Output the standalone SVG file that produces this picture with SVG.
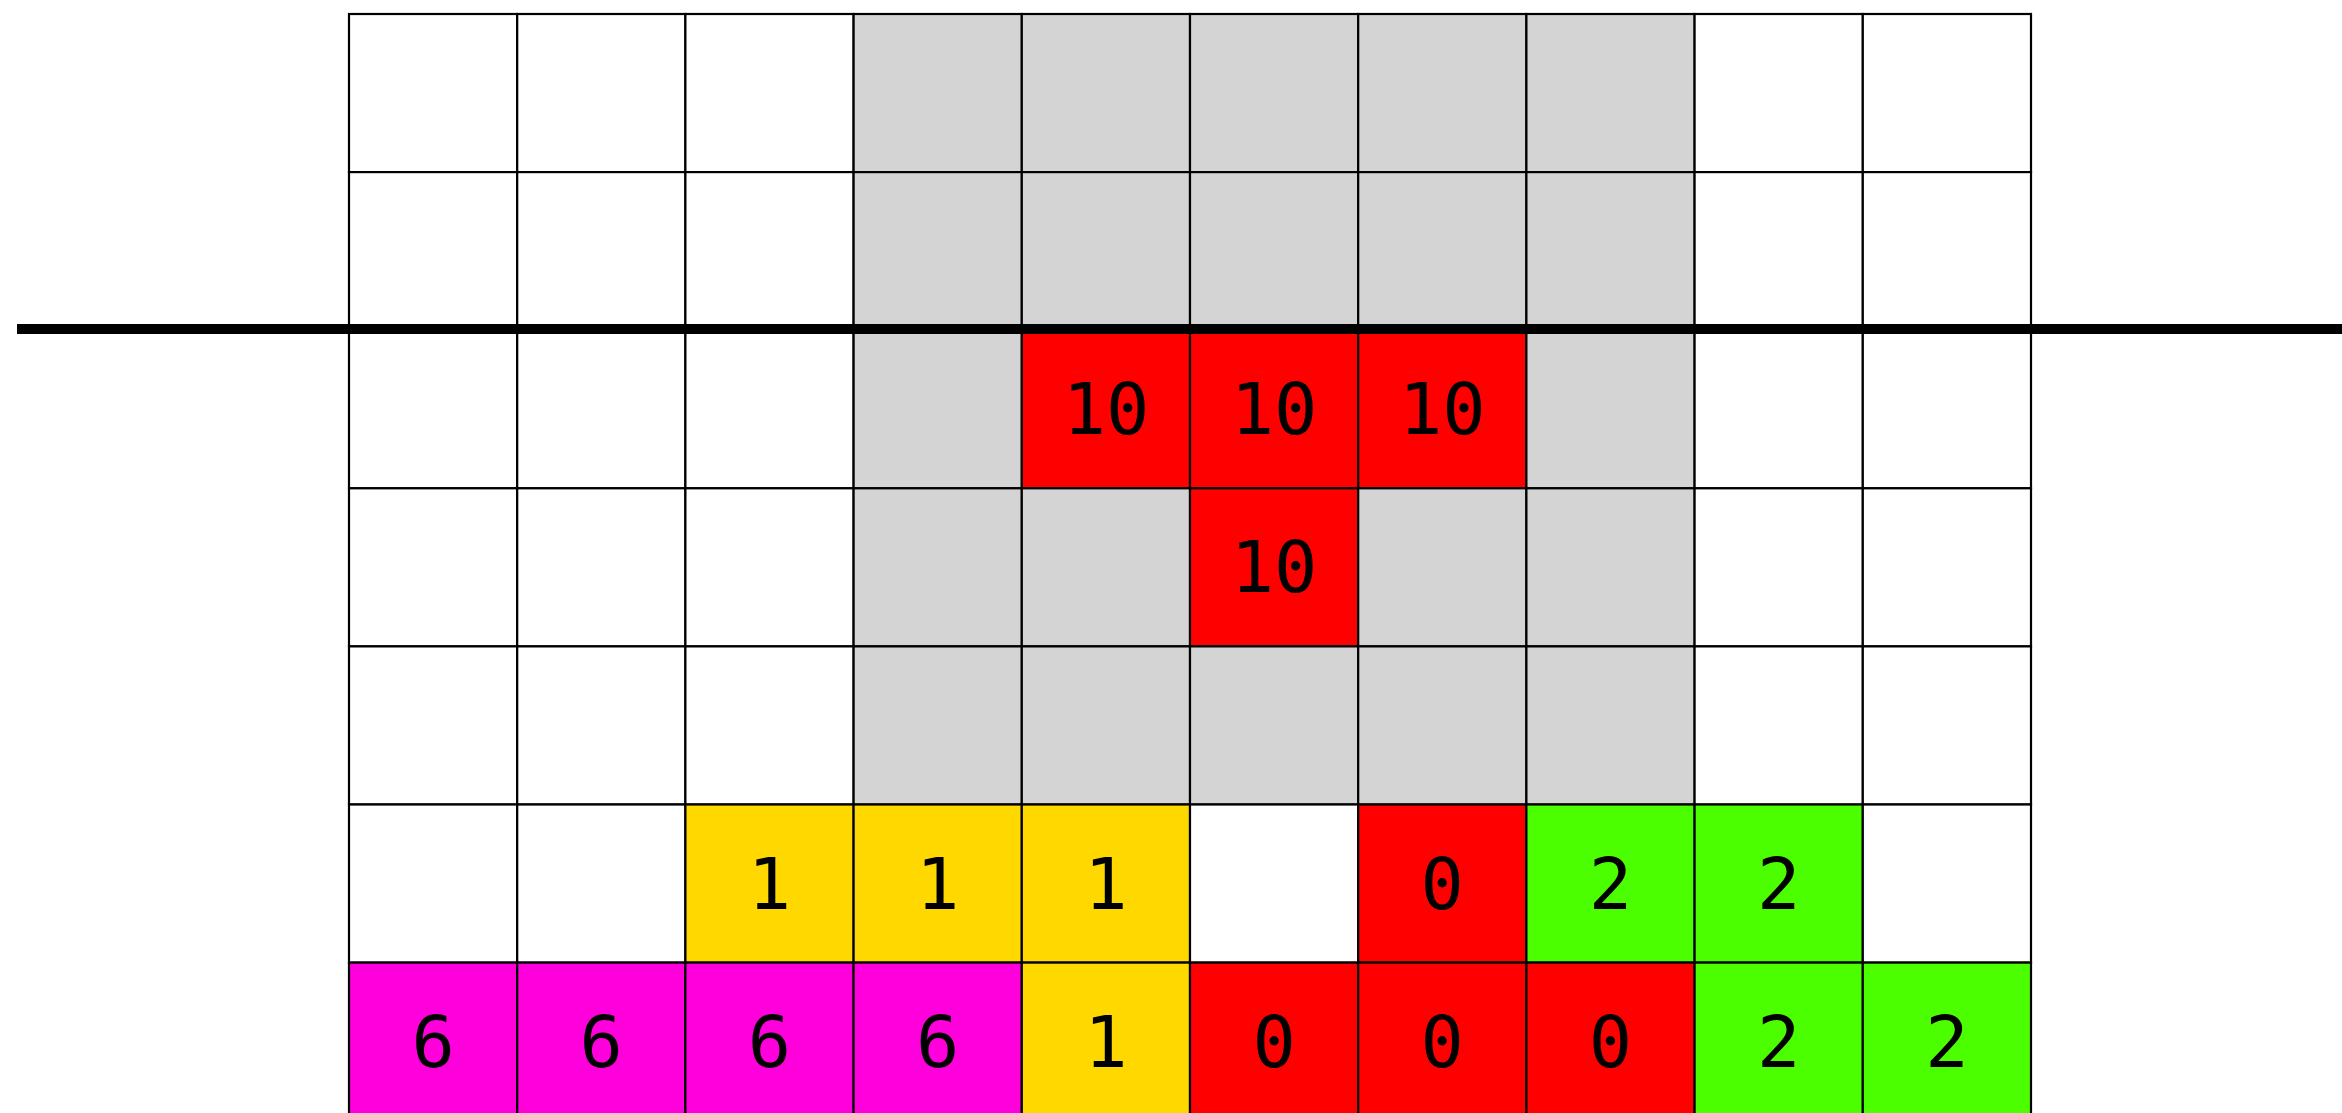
<svg xmlns="http://www.w3.org/2000/svg" width="2342" height="1113" viewBox="0 0 2342 1113">
<style>
rect{stroke:#000;stroke-width:2.2}
.w{fill:#ffffff}.g{fill:#d4d4d4}.r{fill:#ff0000}.y{fill:#ffd800}.gr{fill:#4cff00}.m{fill:#ff00dc}
text{font-family:"DejaVu Sans Mono",monospace;font-size:72px;text-anchor:middle;fill:#000;font-variant-numeric:slashed-zero;font-feature-settings:"zero" 1}
</style>
<rect x="0" y="0" width="2342" height="1113" style="fill:#fff;stroke:none"/>
<g id="row0">
<g id="c0-0"><rect class="w" x="349" y="14" width="168.2" height="158.1"/></g>
<g id="c0-1"><rect class="w" x="517.2" y="14" width="168.2" height="158.1"/></g>
<g id="c0-2"><rect class="w" x="685.4" y="14" width="168.2" height="158.1"/></g>
<g id="c0-3"><rect class="g" x="853.6" y="14" width="168.2" height="158.1"/></g>
<g id="c0-4"><rect class="g" x="1021.8" y="14" width="168.2" height="158.1"/></g>
<g id="c0-5"><rect class="g" x="1190" y="14" width="168.2" height="158.1"/></g>
<g id="c0-6"><rect class="g" x="1358.2" y="14" width="168.2" height="158.1"/></g>
<g id="c0-7"><rect class="g" x="1526.4" y="14" width="168.2" height="158.1"/></g>
<g id="c0-8"><rect class="w" x="1694.6" y="14" width="168.2" height="158.1"/></g>
<g id="c0-9"><rect class="w" x="1862.8" y="14" width="168.2" height="158.1"/></g>
</g>
<g id="row1">
<g id="c1-0"><rect class="w" x="349" y="172.1" width="168.2" height="158.1"/></g>
<g id="c1-1"><rect class="w" x="517.2" y="172.1" width="168.2" height="158.1"/></g>
<g id="c1-2"><rect class="w" x="685.4" y="172.1" width="168.2" height="158.1"/></g>
<g id="c1-3"><rect class="g" x="853.6" y="172.1" width="168.2" height="158.1"/></g>
<g id="c1-4"><rect class="g" x="1021.8" y="172.1" width="168.2" height="158.1"/></g>
<g id="c1-5"><rect class="g" x="1190" y="172.1" width="168.2" height="158.1"/></g>
<g id="c1-6"><rect class="g" x="1358.2" y="172.1" width="168.2" height="158.1"/></g>
<g id="c1-7"><rect class="g" x="1526.4" y="172.1" width="168.2" height="158.1"/></g>
<g id="c1-8"><rect class="w" x="1694.6" y="172.1" width="168.2" height="158.1"/></g>
<g id="c1-9"><rect class="w" x="1862.8" y="172.1" width="168.2" height="158.1"/></g>
</g>
<g id="row2">
<g id="c2-0"><rect class="w" x="349" y="330.2" width="168.2" height="158.1"/></g>
<g id="c2-1"><rect class="w" x="517.2" y="330.2" width="168.2" height="158.1"/></g>
<g id="c2-2"><rect class="w" x="685.4" y="330.2" width="168.2" height="158.1"/></g>
<g id="c2-3"><rect class="g" x="853.6" y="330.2" width="168.2" height="158.1"/></g>
<g id="c2-4"><rect class="r" x="1021.8" y="330.2" width="168.2" height="158.1"/><text x="1106" y="434">10</text></g>
<g id="c2-5"><rect class="r" x="1190" y="330.2" width="168.2" height="158.1"/><text x="1274.1" y="434">10</text></g>
<g id="c2-6"><rect class="r" x="1358.2" y="330.2" width="168.2" height="158.1"/><text x="1442.3" y="434">10</text></g>
<g id="c2-7"><rect class="g" x="1526.4" y="330.2" width="168.2" height="158.1"/></g>
<g id="c2-8"><rect class="w" x="1694.6" y="330.2" width="168.2" height="158.1"/></g>
<g id="c2-9"><rect class="w" x="1862.8" y="330.2" width="168.2" height="158.1"/></g>
</g>
<g id="row3">
<g id="c3-0"><rect class="w" x="349" y="488.3" width="168.2" height="158.1"/></g>
<g id="c3-1"><rect class="w" x="517.2" y="488.3" width="168.2" height="158.1"/></g>
<g id="c3-2"><rect class="w" x="685.4" y="488.3" width="168.2" height="158.1"/></g>
<g id="c3-3"><rect class="g" x="853.6" y="488.3" width="168.2" height="158.1"/></g>
<g id="c3-4"><rect class="g" x="1021.8" y="488.3" width="168.2" height="158.1"/></g>
<g id="c3-5"><rect class="r" x="1190" y="488.3" width="168.2" height="158.1"/><text x="1274.1" y="592.3">10</text></g>
<g id="c3-6"><rect class="g" x="1358.2" y="488.3" width="168.2" height="158.1"/></g>
<g id="c3-7"><rect class="g" x="1526.4" y="488.3" width="168.2" height="158.1"/></g>
<g id="c3-8"><rect class="w" x="1694.6" y="488.3" width="168.2" height="158.1"/></g>
<g id="c3-9"><rect class="w" x="1862.8" y="488.3" width="168.2" height="158.1"/></g>
</g>
<g id="row4">
<g id="c4-0"><rect class="w" x="349" y="646.4" width="168.2" height="158.1"/></g>
<g id="c4-1"><rect class="w" x="517.2" y="646.4" width="168.2" height="158.1"/></g>
<g id="c4-2"><rect class="w" x="685.4" y="646.4" width="168.2" height="158.1"/></g>
<g id="c4-3"><rect class="g" x="853.6" y="646.4" width="168.2" height="158.1"/></g>
<g id="c4-4"><rect class="g" x="1021.8" y="646.4" width="168.2" height="158.1"/></g>
<g id="c4-5"><rect class="g" x="1190" y="646.4" width="168.2" height="158.1"/></g>
<g id="c4-6"><rect class="g" x="1358.2" y="646.4" width="168.2" height="158.1"/></g>
<g id="c4-7"><rect class="g" x="1526.4" y="646.4" width="168.2" height="158.1"/></g>
<g id="c4-8"><rect class="w" x="1694.6" y="646.4" width="168.2" height="158.1"/></g>
<g id="c4-9"><rect class="w" x="1862.8" y="646.4" width="168.2" height="158.1"/></g>
</g>
<g id="row5">
<g id="c5-0"><rect class="w" x="349" y="804.5" width="168.2" height="158.1"/></g>
<g id="c5-1"><rect class="w" x="517.2" y="804.5" width="168.2" height="158.1"/></g>
<g id="c5-2"><rect class="y" x="685.4" y="804.5" width="168.2" height="158.1"/><text x="769.5" y="908.5">1</text></g>
<g id="c5-3"><rect class="y" x="853.6" y="804.5" width="168.2" height="158.1"/><text x="937.7" y="908.5">1</text></g>
<g id="c5-4"><rect class="y" x="1021.8" y="804.5" width="168.2" height="158.1"/><text x="1105.9" y="908.5">1</text></g>
<g id="c5-5"><rect class="w" x="1190" y="804.5" width="168.2" height="158.1"/></g>
<g id="c5-6"><rect class="r" x="1358.2" y="804.5" width="168.2" height="158.1"/><text x="1442.3" y="908.5">0</text></g>
<g id="c5-7"><rect class="gr" x="1526.4" y="804.5" width="168.2" height="158.1"/><text x="1610.5" y="908.5">2</text></g>
<g id="c5-8"><rect class="gr" x="1694.6" y="804.5" width="168.2" height="158.1"/><text x="1778.7" y="908.5">2</text></g>
<g id="c5-9"><rect class="w" x="1862.8" y="804.5" width="168.2" height="158.1"/></g>
</g>
<g id="row6">
<g id="c6-0"><rect class="m" x="349" y="962.6" width="168.2" height="158.1"/><text x="433.1" y="1066.6">6</text></g>
<g id="c6-1"><rect class="m" x="517.2" y="962.6" width="168.2" height="158.1"/><text x="601.3" y="1066.6">6</text></g>
<g id="c6-2"><rect class="m" x="685.4" y="962.6" width="168.2" height="158.1"/><text x="769.5" y="1066.6">6</text></g>
<g id="c6-3"><rect class="m" x="853.6" y="962.6" width="168.2" height="158.1"/><text x="937.7" y="1066.6">6</text></g>
<g id="c6-4"><rect class="y" x="1021.8" y="962.6" width="168.2" height="158.1"/><text x="1105.9" y="1066.6">1</text></g>
<g id="c6-5"><rect class="r" x="1190" y="962.6" width="168.2" height="158.1"/><text x="1274.1" y="1066.6">0</text></g>
<g id="c6-6"><rect class="r" x="1358.2" y="962.6" width="168.2" height="158.1"/><text x="1442.3" y="1066.6">0</text></g>
<g id="c6-7"><rect class="r" x="1526.4" y="962.6" width="168.2" height="158.1"/><text x="1610.5" y="1066.6">0</text></g>
<g id="c6-8"><rect class="gr" x="1694.6" y="962.6" width="168.2" height="158.1"/><text x="1778.7" y="1066.6">2</text></g>
<g id="c6-9"><rect class="gr" x="1862.8" y="962.6" width="168.2" height="158.1"/><text x="1946.9" y="1066.6">2</text></g>
</g>
<g id="connectors">
<line x1="17" y1="329" x2="2342" y2="329" stroke="#000" stroke-width="10"/>
</g>
</svg>
